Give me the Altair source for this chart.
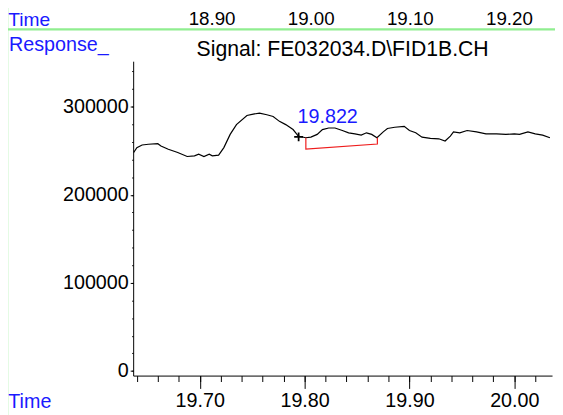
import altair as alt
import pandas as pd

FONT = "Liberation Sans"

# Signal trace (time in min, response)
times = [19.637, 19.640, 19.645, 19.651, 19.660, 19.663, 19.670, 19.679, 19.688, 19.695,
         19.699, 19.704, 19.709, 19.712, 19.718, 19.723, 19.729, 19.735, 19.745, 19.751,
         19.757, 19.764, 19.770, 19.776, 19.782, 19.789, 19.794, 19.801, 19.806, 19.812,
         19.817, 19.823, 19.829, 19.836, 19.842, 19.848, 19.854, 19.859, 19.864, 19.869,
         19.875, 19.879, 19.886, 19.895, 19.900, 19.906, 19.912, 19.920, 19.928, 19.934,
         19.939, 19.942, 19.948, 19.955, 19.964, 19.973, 19.983, 19.992, 20.000, 20.005,
         20.013, 20.020, 20.027, 20.034]
response = [247900, 253500, 256500, 257300, 258000, 255400, 251700, 247900, 243400, 244200,
            246100, 243400, 246100, 244200, 245000, 253500, 268500, 279600, 290000, 291500,
            292600, 290800, 288900, 283300, 279600, 274000, 266600, 264700, 265400, 268500,
            274000, 275800, 275800, 272900, 270300, 269100, 267700, 270300, 268500, 264700,
            271400, 275200, 276600, 277700, 272900, 270300, 265400, 264000, 263500, 261000,
            266600, 271400, 270300, 272900, 271400, 269100, 269100, 268500, 269100, 268500,
            271400, 269100, 267700, 264700]

# Integration baseline (red)
base_t = [19.8012, 19.8012, 19.8694, 19.8694]
base_v = [264700, 251700, 257600, 264700]

# Peak start marker and apex label
mark_t = [19.7943]
mark_v = [265700]
peak_t = [19.822]
peak_v = [281400]
peak_label = ["19.822"]

# Axis ticks
x_major = [19.70, 19.80, 19.90, 20.00]
x_minor = [19.64, 19.66, 19.68, 19.70, 19.72, 19.74, 19.76, 19.78, 19.80, 19.82,
           19.84, 19.86, 19.88, 19.90, 19.92, 19.94, 19.96, 19.98, 20.00, 20.02]
y_major = [0, 100000, 200000, 300000]
y_minor = [0, 20000, 40000, 60000, 80000, 100000, 120000, 140000, 160000, 180000,
           200000, 220000, 240000, 260000, 280000, 300000, 320000, 340000]

# Leftover time strip at the top
top_times = [18.90, 19.00, 19.10, 19.20]

W, H = 425, 319

sig = pd.DataFrame({"t": times, "v": response})
bl = pd.DataFrame({"t": base_t, "v": base_v, "o": list(range(len(base_t)))})
mk = pd.DataFrame({"t": mark_t, "v": mark_v})
pk = pd.DataFrame({"t": peak_t, "v": peak_v, "label": peak_label})
top = pd.DataFrame({"t": top_times, "label": [f"{v:.2f}" for v in top_times]})

xs = alt.Scale(domain=[19.6365, 20.036], nice=False, zero=False)
ys = alt.Scale(domain=[-5300, 351600], nice=False, zero=False)

common_axis = dict(labelFont=FONT, labelFontSize=20, labelColor="black",
                   domainColor="black", tickColor="black", grid=False, title=None)

line = alt.Chart(sig).mark_line(color="black", strokeWidth=1.2).encode(
    x=alt.X("t:Q", scale=xs, axis=alt.Axis(values=x_major, format=".2f", tickSize=13,
                                          labelPadding=2, orient="bottom", **common_axis)),
    y=alt.Y("v:Q", scale=ys, axis=alt.Axis(values=y_major, format="d", tickSize=3,
                                          labelPadding=2, orient="left", **common_axis)),
)

minor = alt.Chart(sig).mark_line(strokeOpacity=0).encode(
    x=alt.X("t:Q", scale=xs, axis=alt.Axis(values=x_minor, tickSize=6, labels=False,
                                          domain=False, orient="bottom", grid=False,
                                          tickColor="black", title=None)),
    y=alt.Y("v:Q", scale=ys, axis=alt.Axis(values=y_minor, tickSize=1.5, labels=False,
                                          domain=False, orient="left", grid=False,
                                          tickColor="black", title=None)),
)

baseline = alt.Chart(bl).mark_line(color="#ee1c1c", strokeWidth=1.2).encode(
    x=alt.X("t:Q", scale=xs, axis=None),
    y=alt.Y("v:Q", scale=ys, axis=None),
    order="o:O",
)

marker = alt.Chart(mk).mark_point(shape="M-1,0L1,0M0,-1L0,1", size=81, color="black",
                                  strokeWidth=1.8, filled=False, opacity=1).encode(
    x=alt.X("t:Q", scale=xs, axis=None),
    y=alt.Y("v:Q", scale=ys, axis=None),
)

peak = alt.Chart(pk).mark_text(font=FONT, fontSize=20, color="#1a1aff",
                               baseline="alphabetic", align="center").encode(
    x=alt.X("t:Q", scale=xs, axis=None),
    y=alt.Y("v:Q", scale=ys, axis=None),
    text="label:N",
)

top_strip = alt.Chart(top).mark_text(font=FONT, fontSize=19, color="black",
                                     baseline="alphabetic", align="center").encode(
    x=alt.X("t:Q", scale=alt.Scale(domain=[18.8204, 19.243], nice=False, zero=False), axis=None),
    y=alt.value(-36.5),
    text="label:N",
)

deco_df = pd.DataFrame({"k": [0]})

green_h = alt.Chart(deco_df).mark_rule(color="#90ee90", strokeWidth=2.2).encode(
    x=alt.value(-128), x2=alt.value(430), y=alt.value(-32.3))
green_v = alt.Chart(deco_df).mark_rule(color="#90ee90", strokeWidth=1.5).encode(
    x=alt.value(-127.5), y=alt.value(-60), y2=alt.value(360))


def label(txt, x, y, color, align="left", size=20):
    return alt.Chart(deco_df).mark_text(text=txt, font=FONT, fontSize=size, color=color,
                                        align=align, baseline="alphabetic").encode(
        x=alt.value(x), y=alt.value(y))


t_top = label("Time", -126.7, -36, "#1a1aff", size=19.5)
t_resp = label("Response_", -126, -10.5, "#1a1aff")
t_title = label("Signal: FE032034.D\\FID1B.CH", W / 2, -5.5, "black", align="center", size=21.5)
t_bot = label("Time", -126.7, 352, "#1a1aff")

chart = alt.layer(
    line, minor, baseline, marker, peak, top_strip,
    green_h, green_v, t_top, t_resp, t_title, t_bot
).resolve_scale(x="independent").resolve_axis(x="independent", y="independent").properties(
    width=W, height=H,
    padding={"left": 127, "top": 51, "right": 3, "bottom": 37},
    autosize=alt.AutoSizeParams(type="none"),
    background="white",
).configure_view(stroke=None)

chart.save("out.html", embed_options={"renderer": "svg", "actions": False})
